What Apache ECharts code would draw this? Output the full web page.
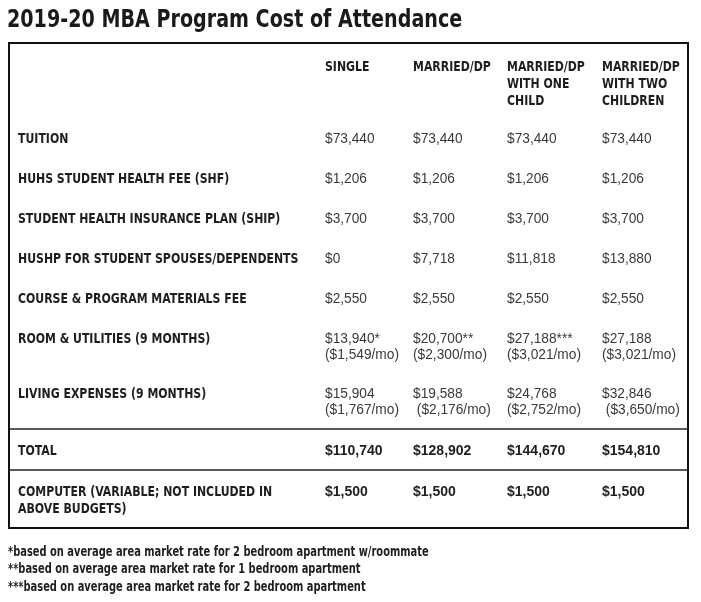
<!DOCTYPE html>
<html><head><meta charset="utf-8">
<script src="https://cdn.jsdelivr.net/npm/echarts@6/dist/echarts.min.js"></script>
<style>html,body{margin:0;padding:0;background:#fff}#c{width:701px;height:602px}</style>
</head><body><div id="c"></div>
<script>
// ---------- data ----------
const chartTitle = '2019-20 MBA Program Cost of Attendance';
const columnHeaders = ['SINGLE', 'MARRIED/DP', 'MARRIED/DP\nWITH ONE\nCHILD', 'MARRIED/DP\nWITH TWO\nCHILDREN'];
const rowLabels = [
  'TUITION',
  'HUHS STUDENT HEALTH FEE (SHF)',
  'STUDENT HEALTH INSURANCE PLAN (SHIP)',
  'HUSHP FOR STUDENT SPOUSES/DEPENDENTS',
  'COURSE & PROGRAM MATERIALS FEE',
  'ROOM & UTILITIES (9 MONTHS)',
  'LIVING EXPENSES (9 MONTHS)'
];
const tuition = ['$73,440', '$73,440', '$73,440', '$73,440'];
const healthFee = ['$1,206', '$1,206', '$1,206', '$1,206'];
const insurancePlan = ['$3,700', '$3,700', '$3,700', '$3,700'];
const dependentsPlan = ['$0', '$7,718', '$11,818', '$13,880'];
const materialsFee = ['$2,550', '$2,550', '$2,550', '$2,550'];
const roomUtilities = ['$13,940*\n($1,549/mo)', '$20,700**\n($2,300/mo)', '$27,188***\n($3,021/mo)', '$27,188\n($3,021/mo)'];
const livingExpenses = ['$15,904\n($1,767/mo)', '$19,588\n ($2,176/mo)', '$24,768\n($2,752/mo)', '$32,846\n ($3,650/mo)'];
const totalLabel = 'TOTAL';
const totals = ['$110,740', '$128,902', '$144,670', '$154,810'];
const computerLabel = 'COMPUTER (VARIABLE; NOT INCLUDED IN\nABOVE BUDGETS)';
const computerCost = ['$1,500', '$1,500', '$1,500', '$1,500'];
const footnotes = [
  '*based on average area market rate for 2 bedroom apartment w/roommate',
  '**based on average area market rate for 1 bedroom apartment',
  '***based on average area market rate for 2 bedroom apartment'
];

// ---------- layout (positions on the page scale) ----------
const COL_X = [18, 325, 413, 507, 602];
const TITLE_X = 7, TITLE_Y = 20;
const HEADER_Y = 67;
const ROW_Y = [139, 179, 219, 259, 299, 339, 394];
const TOTAL_Y = 451;
const COMPUTER_Y = 492;
const BOX = { x0: 9, y0: 43, x1: 688, y1: 528 };
const SEP_Y = [429, 470];
const FOOT_X = 8, FOOT_Y = 552, FOOT_LH = 17.5;

const COND = "'Liberation Sans Narrow', 'DejaVu Sans Condensed', 'Arial Narrow', sans-serif";
const PLAIN = "'Liberation Sans', Arial, sans-serif";
const STYLES = {
  title: { font: 'bold 25px ' + COND, fill: '#1a1a1a', lh: 28, sx: 0.85 },
  head:  { font: 'bold 13.5px ' + COND, fill: '#1e1e1e', lh: 17, sx: 0.9 },
  label: { font: 'bold 13.5px ' + COND, fill: '#1e1e1e', lh: 17, sx: 0.9 },
  value: { font: '14px ' + PLAIN, fill: '#3a3a3a', lh: 16, sx: 0.98 },
  total: { font: 'bold 14px ' + PLAIN, fill: '#1e1e1e', lh: 16, sx: 1 },
  foot:  { font: 'bold 14px ' + COND, fill: '#1e1e1e', lh: FOOT_LH, sx: 0.785 }
};
const KINDS = ['title', 'head', 'label', 'value', 'total', 'foot'];

// ---------- build cells from the arrays ----------
const texts = [];
const cells = [];
function addCell(x, y, text, kind) {
  texts.push(text);
  cells.push([x, y, texts.length - 1, KINDS.indexOf(kind)]);
}
addCell(TITLE_X, TITLE_Y, chartTitle, 'title');
columnHeaders.forEach((h, i) => addCell(COL_X[i + 1], HEADER_Y, h, 'head'));
const valueRows = [tuition, healthFee, insurancePlan, dependentsPlan, materialsFee, roomUtilities, livingExpenses];
rowLabels.forEach((lab, r) => {
  addCell(COL_X[0], ROW_Y[r], lab, 'label');
  valueRows[r].forEach((v, c) => addCell(COL_X[c + 1], ROW_Y[r], v, 'value'));
});
addCell(COL_X[0], TOTAL_Y, totalLabel, 'label');
totals.forEach((v, c) => addCell(COL_X[c + 1], TOTAL_Y, v, 'total'));
addCell(COL_X[0], COMPUTER_Y, computerLabel, 'label');
computerCost.forEach((v, c) => addCell(COL_X[c + 1], COMPUTER_Y, v, 'total'));
footnotes.forEach((f, i) => addCell(FOOT_X, FOOT_Y + i * FOOT_LH, f, 'foot'));

const chart = echarts.init(document.getElementById('c'), null, { renderer: 'canvas' });
chart.setOption({
  animation: false,
  backgroundColor: '#ffffff',
  grid: { left: 0, right: 0, top: 0, bottom: 0 },
  xAxis: { type: 'value', min: 0, max: 701, show: false },
  yAxis: { type: 'value', min: 0, max: 602, inverse: true, show: false },
  series: [
    {
      type: 'custom',
      data: [[BOX.x0, BOX.y0, BOX.x1, BOX.y1]],
      renderItem: function (params, api) {
        const p0 = api.coord([api.value(0), api.value(1)]);
        const p1 = api.coord([api.value(2), api.value(3)]);
        const children = [{
          type: 'rect',
          shape: { x: p0[0], y: p0[1], width: p1[0] - p0[0], height: p1[1] - p0[1] },
          style: { fill: 'none', stroke: '#111', lineWidth: 2 }
        }];
        SEP_Y.forEach(y => {
          const a = api.coord([api.value(0), y]);
          const b = api.coord([api.value(2), y]);
          children.push({ type: 'line', shape: { x1: a[0], y1: a[1], x2: b[0], y2: b[1] }, style: { stroke: '#222', lineWidth: 1.5 } });
        });
        return { type: 'group', children };
      }
    },
    {
      type: 'custom',
      data: cells,
      renderItem: function (params, api) {
        const pt = api.coord([api.value(0), api.value(1)]);
        const st = STYLES[KINDS[api.value(3)]];
        return {
          type: 'text',
          x: pt[0], y: pt[1] - st.lh / 2,
          scaleX: st.sx,
          style: {
            text: texts[api.value(2)], font: st.font, fill: st.fill,
            lineHeight: st.lh, verticalAlign: 'top', align: 'left', x: 0, y: 0
          }
        };
      }
    }
  ]
});
</script></body></html>
